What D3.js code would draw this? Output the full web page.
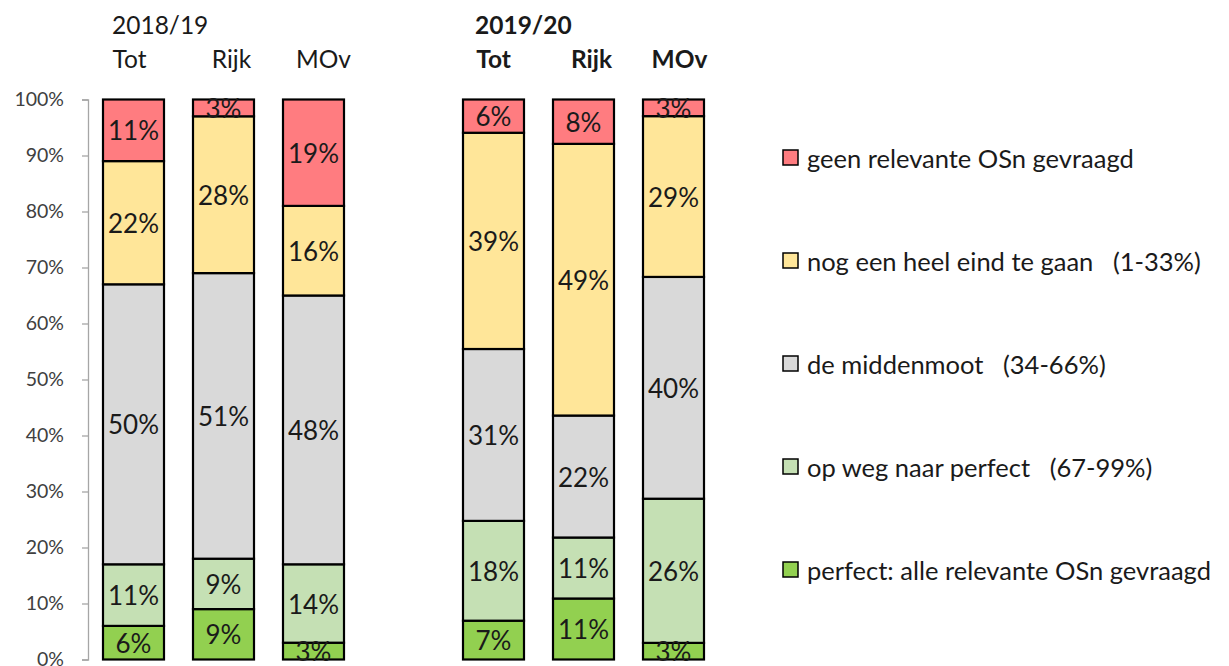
<!DOCTYPE html>
<html><head><meta charset="utf-8">
<script src="https://cdn.jsdelivr.net/npm/d3@7"></script>
<style>
body{margin:0;background:#fff;}
text{font-family:Lato,"Open Sans",sans-serif;}
</style></head>
<body><svg id="c" width="1229" height="666"></svg>
<script>
// ---- data ----
const categories = ["Tot 2018/19","Rijk 2018/19","MOv 2018/19","gap","Tot 2019/20","Rijk 2019/20","MOv 2019/20"];
const barLabels   = ["Tot","Rijk","MOv","","Tot","Rijk","MOv"];
const groups      = ["2018/19","2019/20"];
const seriesNames = ["perfect: alle relevante OSn gevraagd","op weg naar perfect   (67-99%)","de middenmoot   (34-66%)","nog een heel eind te gaan   (1-33%)","geen relevante OSn gevraagd"];
const perfect = [6, 9, 3, null, 7, 11, 3];
const opWeg   = [11, 9, 14, null, 18, 11, 26];
const midden  = [50, 51, 48, null, 31, 22, 40];
const nogEind = [22, 28, 16, null, 39, 49, 29];
const geen    = [11, 3, 19, null, 6, 8, 3];
const yTicks  = [0,0.1,0.2,0.3,0.4,0.5,0.6,0.7,0.8,0.9,1];
const colors  = ["#92D050","#C5E0B4","#D9D9D9","#FFE699","#FF7C80"];

// ---- build ----
const keys = ["perfect","opWeg","midden","nogEind","geen"];
const seriesArrays = [perfect, opWeg, midden, nogEind, geen];
const rows = categories.map((c,i)=>{const r={cat:c}; keys.forEach((k,j)=>r[k]=seriesArrays[j][i]||0); return r;}).filter(r=>r.cat!=="gap");

const svg = d3.select("#c");
const x = d3.scaleBand().domain(categories).range([88.5,718.5]).paddingInner(29/90).paddingOuter(29/180);
const y = d3.scaleLinear().domain([0,1]).range([659.5,99.5]);

const stack = d3.stack().keys(keys).offset(d3.stackOffsetExpand);
const stacked = stack(rows);

// axis
const axis = svg.append("g").attr("transform","translate(88,0)")
  .call(d3.axisLeft(y).tickValues(yTicks).tickFormat(d3.format(".0%")).tickSize(6).tickPadding(18));
axis.selectAll("path,line").attr("stroke","#A6A6A6").attr("stroke-width",1.3);
axis.selectAll("text").attr("font-size",19.5).attr("fill","#404040").attr("font-family","Lato");

// bars
const layer = svg.append("g").selectAll("g").data(stacked).join("g").attr("fill",(d,i)=>colors[i]);
layer.selectAll("rect").data(d=>d).join("rect")
  .attr("x",d=>x(d.data.cat)).attr("width",x.bandwidth())
  .attr("y",d=>y(d[1])).attr("height",d=>y(d[0])-y(d[1]))
  .attr("stroke","#000").attr("stroke-width",2.2);

// value labels
const lab = svg.append("g");
stacked.forEach((s,si)=>{
  s.forEach(d=>{
    const v = d.data[s.key];
    lab.append("text")
      .attr("x",x(d.data.cat)+x.bandwidth()/2)
      .attr("y",(y(d[0])+y(d[1]))/2)
      .attr("text-anchor","middle").attr("dominant-baseline","central")
      .attr("font-size",26).attr("fill","#1a1a1a")
      .text(v+"%");
  });
});

// headers (hand-placed text boxes in the original, small offsets from bar centres)
const headerDx = [-4, 8, 10, 0, 0, 8, 6];
const hdr = svg.append("g");
categories.forEach((c,i)=>{
  if(c==="gap") return;
  hdr.append("text").attr("x",x(c)+x.bandwidth()/2+headerDx[i]).attr("y",68)
    .attr("text-anchor","middle").attr("font-size",24.5).attr("fill","#1a1a1a")
    .attr("font-weight", i>3?"bold":"normal").text(barLabels[i]);
});
hdr.append("text").attr("x",x(categories[0])+9).attr("y",34).attr("font-size",24.5).attr("fill","#1a1a1a").text(groups[0]);
hdr.append("text").attr("x",x(categories[4])+12).attr("y",34).attr("font-size",24.5).attr("font-weight","bold").attr("fill","#1a1a1a").text(groups[1]);

// legend (top-down: geen first)
const legOrder = [4,3,2,1,0];
const lg = svg.append("g");
legOrder.forEach((si,r)=>{
  const cy = 158 + r*103;
  lg.append("rect").attr("x",783).attr("y",cy-8).attr("width",15).attr("height",15)
    .attr("fill",colors[si]).attr("stroke","#000").attr("stroke-width",1.5);
  lg.append("text").attr("x",807).attr("y",cy).attr("dominant-baseline","central")
    .attr("font-size",25.5).attr("fill","#1a1a1a").style("white-space","pre").text(seriesNames[si]);
});
</script></body></html>
